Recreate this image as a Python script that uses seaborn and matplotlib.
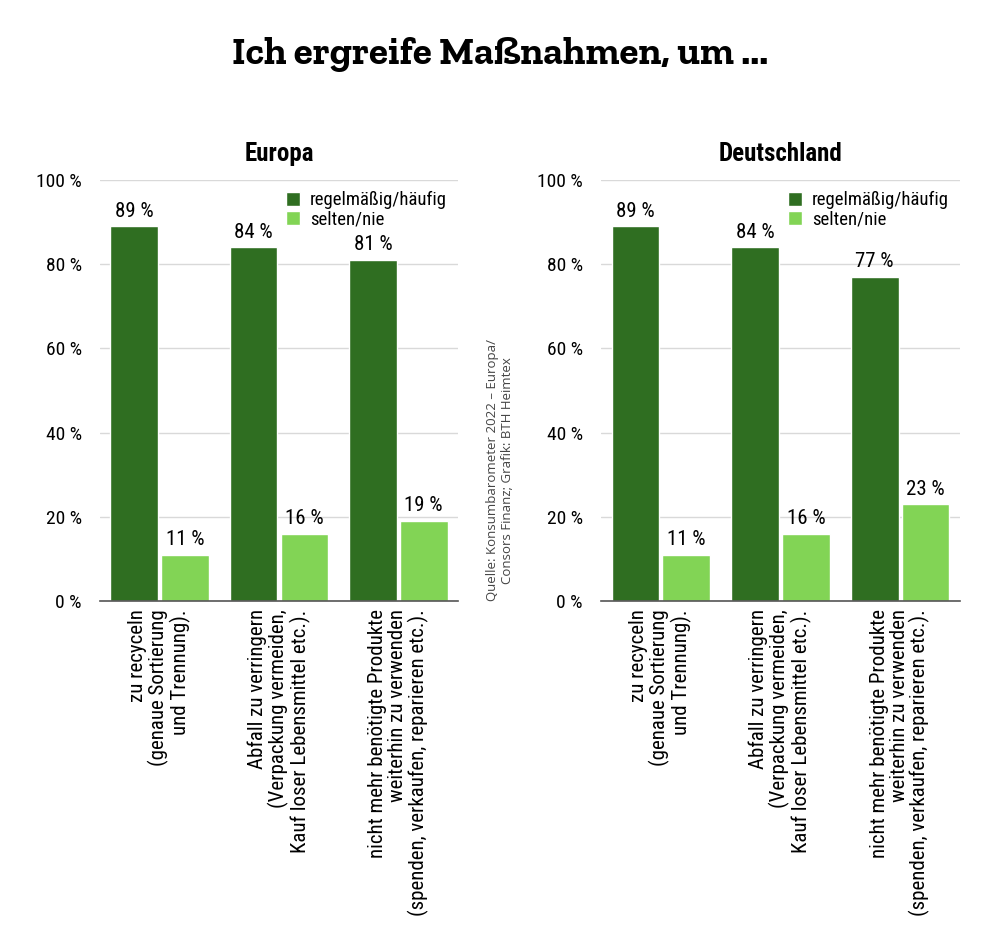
import numpy as np
import pandas as pd
import seaborn as sns
import matplotlib.pyplot as plt

# Daten
kategorien = ["zu recyceln\n(genaue Sortierung\nund Trennung).",
              "Abfall zu verringern\n(Verpackung vermeiden,\nKauf loser Lebensmittel etc.).",
              "nicht mehr benötigte Produkte\nweiterhin zu verwenden\n(spenden, verkaufen, reparieren etc.)."]
serien = ["regelmäßig/häufig", "selten/nie"]
europa_haeufig = [89, 84, 81]
europa_selten = [11, 16, 19]
deutschland_haeufig = [89, 84, 77]
deutschland_selten = [11, 16, 23]
y_ticks = [0, 20, 40, 60, 80, 100]

farben = ["#2f6e21", "#82d455"]

sns.set_theme(style="white")
plt.rcParams['font.family'] = ['Roboto Condensed', 'DejaVu Sans']
plt.rcParams['text.color'] = 'black'
plt.rcParams['xtick.color'] = 'black'
plt.rcParams['ytick.color'] = 'black'

fig = plt.figure(figsize=(10, 9.31), dpi=100)
ax1 = fig.add_axes([0.100, 0.3545, 0.358, 0.4522])
ax2 = fig.add_axes([0.601, 0.3545, 0.359, 0.4522])


def panel(ax, titel, haeufig, selten):
    df = pd.DataFrame({
        "kategorie": kategorien * 2,
        "serie": [serien[0]] * 3 + [serien[1]] * 3,
        "wert": haeufig + selten,
    })
    sns.barplot(data=df, x="kategorie", y="wert", hue="serie", palette=farben,
                width=0.85, gap=0.06, saturation=1, ax=ax, legend=True)
    for c in ax.containers:
        ax.bar_label(c, labels=[f"{v:.0f} %" for v in c.datavalues], padding=4, fontsize=15)
    ax.set_ylim(0, 100)
    ax.set_xlim(-0.5, 2.5)
    ax.set_yticks(y_ticks)
    ax.set_yticklabels([f"{t} %" for t in y_ticks], fontsize=14)
    ax.yaxis.grid(True, color="#d9d9d9", linewidth=1)
    ax.set_axisbelow(True)
    for s in ["top", "right", "left"]:
        ax.spines[s].set_visible(False)
    ax.spines["bottom"].set_color("#555555")
    ax.spines["bottom"].set_linewidth(1.2)
    ax.tick_params(axis="y", length=0, pad=13)
    ax.tick_params(axis="x", length=0, pad=6)
    ax.set_xticks(range(3))
    ax.set_xticklabels(kategorien, rotation=90, fontsize=15, ha="center", va="top",
                       multialignment="right", linespacing=1.05)
    ax.set_xlabel("")
    ax.set_ylabel("")
    ax.set_title(titel, fontsize=18, fontweight="bold", pad=14)
    ax.legend(loc="upper right", bbox_to_anchor=(1.0, 1.0), frameon=False, fontsize=13.5,
              handlelength=0.75, handleheight=0.75, handletextpad=0.5, labelspacing=0.05,
              borderaxespad=0.2)


panel(ax1, "Europa", europa_haeufig, europa_selten)
panel(ax2, "Deutschland", deutschland_haeufig, deutschland_selten)

fig.text(0.5, 0.941, "Ich ergreife Maßnahmen, um ...", ha="center", va="center",
         fontsize=28, fontweight="bold", family=["Zilla Slab", "DejaVu Serif"])

fig.text(0.500, 0.354, "Quelle: Konsumbarometer 2022 – Europa/\nConsors Finanz; Grafik: BTH Heimtex",
         rotation=90, ha="center", va="bottom", fontsize=9.5, color="#444444",
         family=["Open Sans", "DejaVu Sans"], linespacing=1.2)

plt.savefig("out.png", dpi=100)
